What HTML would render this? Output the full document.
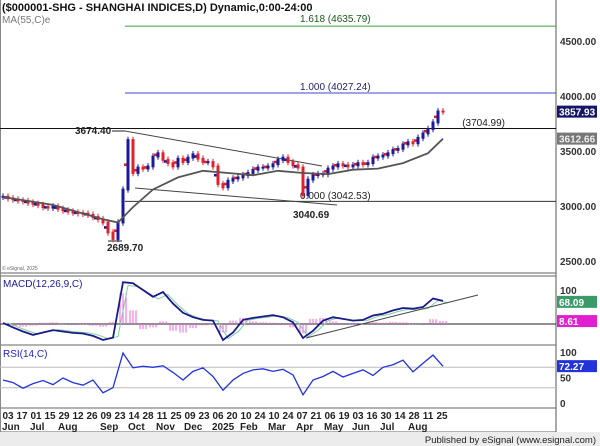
<!DOCTYPE html>
<html><head><meta charset="utf-8"><style>
body{margin:0;background:#fff;}
svg{display:block;font-family:"Liberation Sans",Arial,sans-serif;}
</style></head><body>
<svg id="c" width="600" height="446" viewBox="0 0 600 446">
<rect x="0" y="0" width="600" height="446" fill="#fff"/>
<g id="main"></g>
<text x="2" y="11" font-size="11" font-weight="bold" fill="#111">($000001-SHG - SHANGHAI INDICES,D) Dynamic,0:00-24:00</text>
<text x="2" y="23" font-size="10" fill="#777">MA(55,C)e</text>
<text x="2" y="270" font-size="5" fill="#666">© eSignal, 2025</text>
<text x="3" y="287" font-size="10" fill="#1a1aa0">MACD(12,26,9,C)</text>
<text x="3" y="357" font-size="10" fill="#2222cc">RSI(14,C)</text>
<rect x="0" y="432" width="600" height="14" fill="#ececec"/>
<text x="596" y="443" font-size="9.5" fill="#222" text-anchor="end">Published by eSignal (www.esignal.com)</text>
</svg>
<script>
// ---------- data ----------
const priceCloses=[3085,3070,3060,3050,3045,3030,3020,3010,2990,2985,2995,2975,2960,2950,2940,2935,2930,2920,2900,2880,2850,2760,2700,2850,3150,3600,3300,3350,3340,3360,3450,3480,3420,3390,3360,3430,3400,3440,3470,3430,3400,3400,3360,3200,3170,3230,3250,3260,3280,3300,3330,3350,3350,3360,3380,3420,3440,3400,3370,3350,3100,3240,3280,3290,3290,3340,3360,3380,3370,3360,3370,3390,3380,3390,3440,3450,3460,3480,3510,3520,3560,3580,3570,3620,3660,3700,3760,3860,3858];
const maIdx=[0,10,20,23,26,30,35,40,45,50,55,60,65,70,75,80,85,88];
const maVals=[3082,3010,2880,2850,2990,3150,3260,3320,3300,3280,3320,3300,3290,3330,3340,3390,3480,3612];
const macdVals=[3,-10,-22,-32,-25,-18,-22,-26,-28,-35,-47,-40,123,120,100,80,94,60,33,20,12,10,-47,-25,12,18,22,26,20,5,-41,-20,10,20,15,10,12,25,30,40,47,45,50,75,68];
const histVals=[2,-6,-8,-5,4,5,-2,-3,-2,-5,-8,6,90,40,-15,-10,8,-20,-25,-12,-4,-2,-25,10,18,8,5,4,-3,-10,-28,15,18,8,-3,-2,3,6,4,6,5,-2,3,14,9];
const rsiVals=[45,40,29,38,44,36,49,40,35,45,20,30,98,69,72,70,73,60,45,62,69,52,25,45,58,65,67,62,66,55,16,45,52,62,51,58,65,54,70,75,84,61,78,94,72];
const dateTop=["03","17","01","15","29","12","26","09","23","14","28","11","25","09","23","06","20","10","24","10","24","07","21","06","19","03","16","30","14","28","11","25"];
const monthLabels=["Jun","Jul","Aug","Sep","Oct","Nov","Dec","2025","Feb","Mar","Apr","May","Jun","Jul","Aug"];
const monthPos=[0,2,4,7,9,11,13,15,17,19,21,23,25,27,29];
const priceTicks=[2500,3000,3500,4000,4500];
const macdTicks=[100];
const rsiTicks=[100,50,0];
// ---------- scales ----------
const xI=i=>3+i*5;
const xH=k=>3+k*10;
const yP=v=>206-(v-3000)*0.11;
const yM=v=>324-v*0.34;
const yR=v=>403-v*0.51;
const xD=i=>8+i*14;
const NS="http://www.w3.org/2000/svg";
const svg=document.getElementById('main');
function mk(t,a,p){const e=document.createElementNS(NS,t);for(const k in a)e.setAttribute(k,a[k]);(p||svg).appendChild(e);return e;}
let e;
e=mk('line',{x1:556,y1:0,x2:556,y2:432,stroke:'#555','stroke-width':1});


[273,276,345,408,432].forEach(y=>{e=mk('line',{x1:0,y1:y,x2:556,y2:y,stroke:'#666','stroke-width':1});

});
e=mk('line',{x1:0.5,y1:0,x2:0.5,y2:432,stroke:'#888'});


function hl(y,x1,col,name){e=mk('line',{x1:x1,y1:y,x2:556,y2:y,stroke:col,'stroke-width':1});

}
hl(yP(4635.79),125,'#3aa03a','fib-1618-line');
hl(yP(4027.24),125,'#4444cc','fib-1000-line');
hl(yP(3704.99),0,'#111','resistance-line');
hl(yP(3042.53),125,'#333','fib-0-line');
function tx(x,y,s,o,name){e=mk('text',Object.assign({x:x,y:y,'font-size':10,fill:'#222'},o||{}));e.textContent=s;

return e;}
tx(300,22,'1.618 (4635.79)',{fill:'#1a5a1a'},'fib-1618-label');
tx(300,90,'1.000 (4027.24)',{fill:'#22226a'},'fib-1000-label');
tx(505,126,'(3704.99)',{'text-anchor':'end'},'resistance-label');
tx(300,199,'0.000 (3042.53)',{},'fib-0-label');
tx(75,134,'3674.40',{'font-weight':'bold'},'high-label');
tx(107,251,'2689.70',{'font-weight':'bold'},'low-label');
tx(293,218,'3040.69',{'font-weight':'bold'},'april-low-label');
mk('line',{x1:112,y1:131,x2:125,y2:131,stroke:'#222'});
mk('line',{x1:108,y1:241,x2:122,y2:241,stroke:'#222'});
e=mk('line',{x1:125,y1:131,x2:322,y2:166,stroke:'#444'});


e=mk('line',{x1:135,y1:188,x2:337,y2:205,stroke:'#444'});


priceCloses.forEach((c,i)=>{const p=i?priceCloses[i-1]:c;const up=c>=p;const col=up?'#1a1a9a':'#e0202a';
const hi=Math.max(c,p)+30,lo=Math.min(c,p)-30;
e=mk('line',{x1:xI(i),y1:yP(hi),x2:xI(i),y2:yP(lo),stroke:col,'stroke-width':1});


e=mk('rect',{x:xI(i)-1.5,y:yP(Math.max(c,p)+8),width:3,height:Math.max(2,Math.abs(yP(c)-yP(p))+1.8),fill:col});


if(i%2===1){const m=(c+p)/2;e=mk('rect',{x:xI(i)-4,y:yP(m+12),width:2.5,height:2.6,fill:up?'#e0202a':'#1a1a9a'});

}});
e=mk('polyline',{points:maIdx.map((k,j)=>xI(k)+','+yP(maVals[j])).join(' '),fill:'none',stroke:'#555','stroke-width':1.8});


e=mk('line',{x1:0,y1:yM(0),x2:556,y2:yM(0),stroke:'#222'});


histVals.forEach((v,k)=>{[-3,0,3].forEach(o=>{e=mk('rect',{x:xH(k)+o-0.5,y:Math.min(yM(0),yM(v)),width:1,height:Math.abs(yM(v)-yM(0)),fill:'#f060d8'});

});});
e=mk('polyline',{points:macdVals.map((v,k)=>(xH(k)+5)+','+yM(v*0.92)).join(' '),fill:'none',stroke:'#7fd0a0','stroke-width':1});


e=mk('polyline',{points:macdVals.map((v,k)=>xH(k)+','+yM(v)).join(' '),fill:'none',stroke:'#1a1a8a','stroke-width':1.8});


e=mk('line',{x1:306,y1:338,x2:478,y2:295,stroke:'#444'});


[70,30].forEach(v=>{e=mk('line',{x1:0,y1:yR(v),x2:556,y2:yR(v),stroke:'#bbb'});

});
e=mk('polyline',{points:rsiVals.map((v,k)=>xH(k)+','+yR(v)).join(' '),fill:'none',stroke:'#2233dd','stroke-width':1.3});


priceTicks.forEach(v=>{tx(560,yP(v)+4,v.toFixed(2),{'font-size':10,fill:'#333','font-weight':'bold'},'price-tick');});
function badge(y,txt,bg,fg,name){e=mk('rect',{x:557,y:y-6,width:40,height:12,fill:bg});


tx(559,y+4,txt,{'font-size':10,fill:fg,'font-weight':'bold'},name);}
badge(yP(3857.93),'3857.93','#15156a','#fff','last-price-badge');
badge(yP(3612.66),'3612.66','#777','#eee','ma-value-badge');
macdTicks.forEach(v=>tx(560,yM(v)+4,String(v),{fill:'#333','font-weight':'bold'},'macd-tick'));
badge(yM(68.09)+1,'68.09','#3a9a6a','#fff','macd-value-badge');
badge(yM(8.61),'8.61','#e020d0','#fff','macd-hist-badge');
rsiTicks.forEach(v=>tx(560,yR(v)+4,String(v),{fill:'#333','font-weight':'bold'},'rsi-tick'));
badge(yR(72.27),'72.27','#2233dd','#fff','rsi-value-badge');
dateTop.forEach((d,i)=>tx(xD(i),419,d,{'text-anchor':'middle','font-size':10,fill:'#222','font-weight':'bold'},'date-tick'));
monthLabels.forEach((m,i)=>tx(xD(monthPos[i])-6,430,m,{'font-size':10,fill:'#222','font-weight':'bold'},'month-label'));
</script>
</body></html>
